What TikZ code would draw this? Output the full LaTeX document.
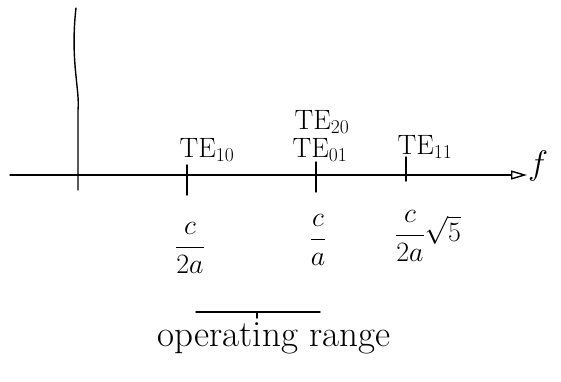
\RequirePackage{fix-cm}
\documentclass[tikz,border=0pt]{standalone}
\usetikzlibrary{arrows.meta}
\tikzset{
  axisline/.style={line width=1.4pt, line cap=round},
  ticklabel/.style={font=\fontsize{28}{30}\selectfont, inner sep=1pt},
  freqlabel/.style={font=\fontsize{28}{30}\selectfont, inner sep=1pt},
}
\begin{document}
\begin{tikzpicture}[x=1pt,y=-1pt]
        \useasboundingbox (0,0) rectangle (561,381);
        % axes
        \coordinate (xl) at (10,175);
        \coordinate (xr) at (527,175);
        \coordinate (yt) at (76,8);
        \coordinate (yb) at (78,190);
        \draw[axisline,-{Triangle[open,length=16pt,width=9pt]}] (xl) -- (xr);
        \node[freqlabel,right,font=\fontsize{34}{36}\selectfont] (f) at (527,166) {$f$};
        \draw[axisline] (yt) .. controls (70,60) and (80,90) .. (78,110) -- (yb);
        % cutoff ticks
        \coordinate (t1a) at (187,165); \coordinate (t1b) at (187,195);
        \coordinate (t2a) at (316,162); \coordinate (t2b) at (316,192);
        \coordinate (t3a) at (406,157); \coordinate (t3b) at (406,181);
        \draw[axisline] (t1a) -- (t1b);
        \draw[axisline] (t2a) -- (t2b);
        \draw[axisline] (t3a) -- (t3b);
        % modes
        \node[ticklabel] (te10) at (207,150) {$\mathrm{TE}_{10}$};
        \node[ticklabel] (te20) at (322,122) {$\mathrm{TE}_{20}$};
        \node[ticklabel] (te01) at (320,150) {$\mathrm{TE}_{01}$};
        \node[ticklabel] (te11) at (425,147) {$\mathrm{TE}_{11}$};
        % cutoff frequencies
        \node[freqlabel] (fc1) at (190,248) {$\displaystyle\frac{c}{2a}$};
        \node[freqlabel] (fc2) at (318,240) {$\displaystyle\frac{c}{a}$};
        \node[freqlabel] (fc3) at (428,236) {$\displaystyle\frac{c}{2a}\sqrt{5}$};
        % operating range
        \coordinate (ra) at (196,312);
        \coordinate (rb) at (320,312);
        \coordinate (rm) at (257,312);
        \coordinate (rn) at (257,318);
        \draw[axisline] (ra) -- (rb);
        \draw[axisline] (rm) -- (rn);
        \node[font=\fontsize{37}{39}\selectfont] (range) at (274,338) {operating range};
\end{tikzpicture}
\end{document}
